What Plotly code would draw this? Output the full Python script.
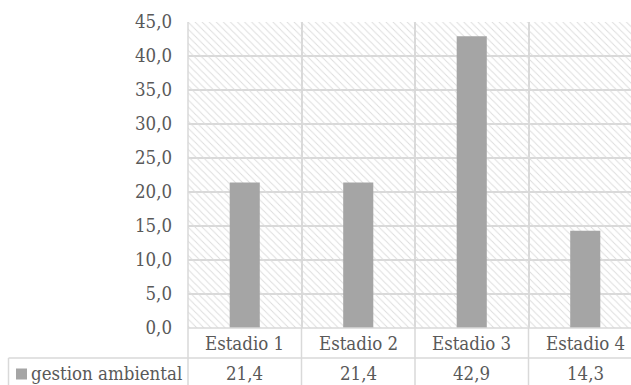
import plotly.graph_objects as go

# ---- data ----
categories = ["Estadio 1", "Estadio 2", "Estadio 3", "Estadio 4"]
series_name = "gestion ambiental"
values = [21.4, 21.4, 42.9, 14.3]
y_ticks = [0, 5, 10, 15, 20, 25, 30, 35, 40, 45]
Y_MAX = 45

# ---- layout constants ----
W, H = 631, 385
ML, MT, MB, MR = 188, 22, 57, 0
plot_w = W - ML - MR
plot_h = H - MT - MB
COL_W = 113.5
n = len(categories)
x_idx = list(range(n))
bounds = [i - 0.5 for i in range(n + 1)]


def fx(p):
    return (p - ML) / plot_w


def fy(p):
    return (H - MB - p) / plot_h


GRID = "#d9d9d9"
TEXT = "#595959"
BAR = "#a5a5a5"
FONT = "DejaVu Serif Condensed, DejaVu Serif"
FS = 18.5


def fmt(v):
    return f"{v:.1f}".replace(".", ",")


fig = go.Figure()

# hatched plot background
fig.add_trace(go.Bar(
    x=[(n - 1) / 2], y=[Y_MAX], width=[n],
    marker=dict(color="rgba(0,0,0,0)", line=dict(width=0),
                pattern=dict(shape="\\", size=5, solidity=0.18,
                             fgcolor="#dcdcdc", bgcolor="rgba(0,0,0,0)",
                             fillmode="replace")),
    hoverinfo="skip", showlegend=False,
))

fig.add_trace(go.Bar(
    x=x_idx, y=values, width=0.265, name=series_name,
    marker=dict(color=BAR, line=dict(width=0)), showlegend=False,
))

shapes = []
for b in bounds:
    if b == bounds[0]:
        shapes.append(dict(type="line", xref="paper", yref="paper", x0=0, x1=0,
                           y0=1, y1=fy(392), line=dict(color=GRID, width=1.5)))
    else:
        shapes.append(dict(type="line", xref="x", yref="paper", x0=b, x1=b,
                           y0=0, y1=fy(392), line=dict(color=GRID, width=1.5)))
shapes.append(dict(type="line", xref="paper", yref="paper", x0=0, x1=1,
                   y0=0, y1=0, line=dict(color=GRID, width=1.5)))
shapes.append(dict(type="line", xref="paper", yref="paper", x0=fx(8.5), x1=1,
                   y0=fy(358), y1=fy(358), line=dict(color=GRID, width=1.5)))
shapes.append(dict(type="line", xref="paper", yref="paper", x0=fx(8.5), x1=fx(8.5),
                   y0=fy(358), y1=fy(392), line=dict(color=GRID, width=1.5)))
shapes.append(dict(type="rect", xref="paper", yref="paper", x0=fx(16), x1=fx(27),
                   y0=fy(368.5), y1=fy(379.5), fillcolor=BAR, line=dict(width=0)))

annotations = []
for i, c in enumerate(categories):
    annotations.append(dict(x=i, y=fy(343), xref="x", yref="paper", text=c,
                            showarrow=False, xanchor="center", yanchor="middle",
                            font=dict(family=FONT, size=FS, color=TEXT)))
for i, v in enumerate(values):
    annotations.append(dict(x=i, y=fy(373), xref="x", yref="paper", text=fmt(v),
                            showarrow=False, xanchor="center", yanchor="middle",
                            font=dict(family=FONT, size=FS, color=TEXT)))
annotations.append(dict(x=fx(29), y=fy(373), xref="paper", yref="paper", text=series_name,
                        showarrow=False, xanchor="left", yanchor="middle",
                        font=dict(family=FONT, size=FS, color=TEXT)))

fig.update_layout(
    width=W, height=H,
    margin=dict(l=ML, r=MR, t=MT, b=MB, pad=0),
    paper_bgcolor="white", plot_bgcolor="white",
    barmode="overlay",
    separators=",.",
    shapes=shapes, annotations=annotations,
    font=dict(family=FONT, size=FS, color=TEXT),
    xaxis=dict(range=[-0.5, -0.5 + plot_w / COL_W], tickvals=bounds,
               showticklabels=False, showgrid=True, gridcolor=GRID, gridwidth=1.5,
               zeroline=False, showline=False, ticks=""),
    yaxis=dict(range=[0, Y_MAX], tickvals=y_ticks, tickformat=".1f",
               showgrid=True, gridcolor=GRID, gridwidth=1.5, zeroline=False,
               showline=False, ticks="", ticklabelstandoff=15,
               tickfont=dict(family=FONT, size=FS, color=TEXT)),
)

fig.write_html("out.html")
